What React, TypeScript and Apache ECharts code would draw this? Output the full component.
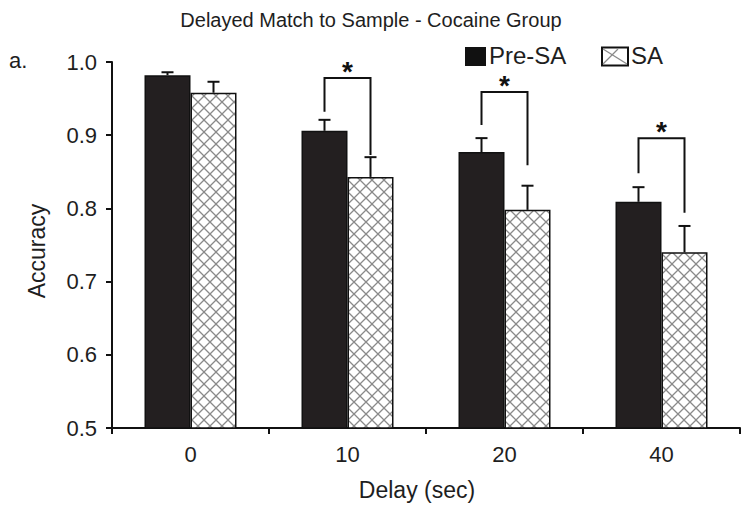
import React, { useEffect, useRef } from 'react';
import * as echarts from 'echarts';

const categories = ['0', '10', '20', '40'];
const preSA = [0.982, 0.906, 0.877, 0.809];
const preSAErr = [0.004, 0.015, 0.019, 0.02];
const sa = [0.958, 0.843, 0.798, 0.74];
const saErr = [0.015, 0.027, 0.033, 0.036];
const sigGroups = [1, 2, 3];
const sigTop = [0.978, 0.959, 0.896];
const sigLeftEnd = [0.932, 0.914, 0.848];
const sigRightEnd = [0.873, 0.859, 0.794];

const BAR_W = 46;
const FONT = '"Liberation Sans", Arial, sans-serif';
const TXT = '#1e1e1e';

function makeHatch() {
  const c = document.createElement('canvas');
  c.width = 12;
  c.height = 12;
  const ctx = c.getContext('2d')!;
  ctx.fillStyle = '#fff';
  ctx.fillRect(0, 0, 12, 12);
  ctx.strokeStyle = '#8a8a8a';
  ctx.lineWidth = 1.3;
  ctx.beginPath();
  ctx.moveTo(0, 0);
  ctx.lineTo(12, 12);
  ctx.moveTo(12, 0);
  ctx.lineTo(0, 12);
  ctx.stroke();
  return c;
}

function errSeries(name: string, vals: number[], errs: number[], offset: number) {
  return {
    type: 'custom',
    name,
    z: 5,
    clip: false,
    data: vals.map((v, i) => [i, v, v + errs[i]]),
    encode: { x: 0, y: [1, 2] },
    renderItem: (_p: any, api: any) => {
      const i = api.value(0);
      const p0 = api.coord([i, api.value(1)]);
      const p1 = api.coord([i, api.value(2)]);
      const x = p0[0] + offset;
      const st = { stroke: '#111', lineWidth: 2 };
      return {
        type: 'group',
        children: [
          { type: 'line', shape: { x1: x, y1: p0[1], x2: x, y2: p1[1] }, style: st },
          { type: 'line', shape: { x1: x - 6, y1: p1[1], x2: x + 6, y2: p1[1] }, style: st },
        ],
      };
    },
  };
}

export default function App() {
  const ref = useRef<HTMLDivElement>(null);
  useEffect(() => {
    const chart = echarts.init(ref.current!, null, { renderer: 'svg' });
    const hatch = makeHatch();
    const pattern = { image: hatch, repeat: 'repeat' } as any;
    chart.setOption({
      animation: false,
      title: {
        text: 'Delayed Match to Sample - Cocaine Group',
        left: 'center',
        top: 5,
        textStyle: { fontFamily: FONT, fontSize: 20, fontWeight: 'normal', color: TXT },
      },
      grid: { left: 112, right: 2, top: 62, bottom: 79 },
      xAxis: {
        type: 'category',
        data: categories,
        name: 'Delay (sec)',
        nameLocation: 'middle',
        nameGap: 50,
        nameTextStyle: { fontFamily: FONT, fontSize: 23, color: TXT, padding: [0, 18, 0, 0] },
        axisLine: { lineStyle: { color: '#111', width: 2 } },
        axisTick: { show: true, length: 6, lineStyle: { color: '#111', width: 2 } },
        axisLabel: { fontFamily: FONT, fontSize: 22, color: TXT, margin: 15 },
      },
      yAxis: {
        type: 'value',
        min: 0.5,
        max: 1.0,
        interval: 0.1,
        name: 'Accuracy',
        nameLocation: 'middle',
        nameGap: 64,
        nameRotate: 90,
        nameTextStyle: { fontFamily: FONT, fontSize: 23, color: TXT, padding: [0, 12, 0, 0] },
        axisLine: { show: true, lineStyle: { color: '#111', width: 2 } },
        axisTick: { show: true, length: 6, lineStyle: { color: '#111', width: 2 } },
        splitLine: { show: false },
        axisLabel: {
          fontFamily: FONT,
          fontSize: 22,
          color: TXT,
          margin: 15,
          formatter: (v: number) => v.toFixed(1),
        },
      },
      series: [
        {
          type: 'bar',
          name: 'Pre-SA',
          data: preSA,
          barWidth: BAR_W,
          barGap: '0%',
          itemStyle: { color: '#231f20', borderColor: '#111', borderWidth: 1.5 },
        },
        {
          type: 'bar',
          name: 'SA',
          data: sa,
          barWidth: BAR_W,
          itemStyle: { color: pattern, borderColor: '#111', borderWidth: 1.5 },
        },
        errSeries('Pre-SA err', preSA, preSAErr, -BAR_W / 2),
        errSeries('SA err', sa, saErr, BAR_W / 2),
        {
          type: 'custom',
          name: 'significance',
          z: 6,
          clip: false,
          data: sigGroups.map((g, k) => [g, sigTop[k], sigLeftEnd[k], sigRightEnd[k]]),
          encode: { x: 0, y: [1, 2, 3] },
          renderItem: (_p: any, api: any) => {
            const g = api.value(0);
            const top = api.coord([g, api.value(1)]);
            const l = api.coord([g, api.value(2)]);
            const r = api.coord([g, api.value(3)]);
            const xl = top[0] - BAR_W / 2;
            const xr = top[0] + BAR_W / 2;
            return {
              type: 'group',
              children: [
                {
                  type: 'polyline',
                  shape: { points: [[xl, l[1]], [xl, top[1]], [xr, top[1]], [xr, r[1]]] },
                  style: { stroke: '#111', lineWidth: 2, fill: 'none' },
                },
                {
                  type: 'text',
                  x: top[0],
                  y: top[1] - 21,
                  style: {
                    text: '*',
                    fontFamily: FONT,
                    fontSize: 28,
                    fontWeight: 'bold',
                    fill: '#111',
                    align: 'center',
                    verticalAlign: 'top',
                  },
                },
              ],
            };
          },
        },
      ],
      graphic: [
        {
          type: 'text',
          x: 9,
          y: 60,
          style: { text: 'a.', fontFamily: FONT, fontSize: 22, fill: TXT, verticalAlign: 'middle' },
        },
        {
          type: 'rect',
          shape: { x: 465, y: 47, width: 21, height: 19 },
          style: { fill: '#111' },
        },
        {
          type: 'text',
          x: 489,
          y: 55,
          style: { text: 'Pre-SA', fontFamily: FONT, fontSize: 24, fill: TXT, verticalAlign: 'middle' },
        },
        {
          type: 'group',
          children: [
            {
              type: 'rect',
              shape: { x: 602, y: 47.5, width: 26, height: 18 },
              style: { fill: '#fff', stroke: '#111', lineWidth: 2 },
            },
            {
              type: 'line',
              shape: { x1: 603, y1: 49, x2: 627, y2: 64 },
              style: { stroke: '#8a8a8a', lineWidth: 1.3 },
            },
            {
              type: 'line',
              shape: { x1: 603, y1: 64, x2: 618, y2: 49 },
              style: { stroke: '#8a8a8a', lineWidth: 1.3 },
            },
          ],
        },
        {
          type: 'text',
          x: 631,
          y: 55,
          style: { text: 'SA', fontFamily: FONT, fontSize: 24, fill: TXT, verticalAlign: 'middle' },
        },
      ],
    });
    return () => chart.dispose();
  }, []);
  return (
    <div
      ref={ref}
      style={{ position: 'fixed', left: 0, top: 0, width: 742, height: 507, background: '#fff' }}
    />
  );
}
